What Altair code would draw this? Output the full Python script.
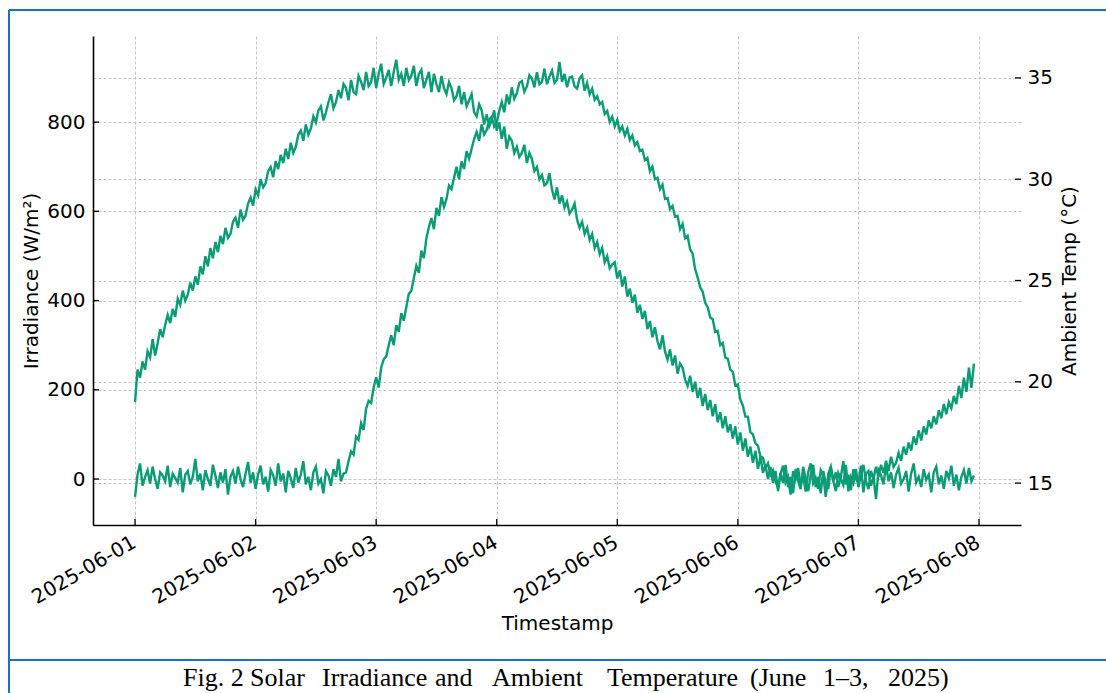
import altair as alt
import pandas as pd

# ---------------- data (half-hourly) ----------------
irradiance = [
    # 2025-06-01
    -40, 10, 35, -15, 5, 20, -10, 28, 0, -22, 15, 8, -5, 30, -18, 12, 2, -8, 25, -30, 10, 18, -12, 5,
    45, -5, 12, -25, 20, 0, -15, 32, 8, -20, 15, -8, 22, -35, 5, 18, -10, 28, 0, -18, 12, 38, -8, 15,
    # 2025-06-02 00:00 - 17:30
    -22, 10, 30, -12, 5, -28, 20, 8, -15, 35, -5, 12, -30, 18, 2, -20, 25, -8, 10, 40, -12, 5, -25, 15,
    28, -10, 0, -32, 18, 8, -15, 22, 5, 45, -5, 12,
    # rise
    15, 40, 62, 55, 95, 88, 125, 110, 158, 175, 170, 205, 228, 205, 250, 268, 275, 300, 322, 300, 345, 330, 372, 355,
    385, 415, 422, 450, 478, 462, 512, 495, 540, 565, 585, 560, 608, 590, 632, 610, 628, 658, 650, 675, 700, 672, 712, 695,
    735, 718, 740, 762, 778, 758, 795, 772, 782, 805, 812, 790, 798, 825, 845, 822, 862, 840, 878, 852, 865, 888, 892, 868,
    880, 905, 898, 878, 912, 885, 890, 920, 885, 902, 915, 888, 895, 935, 890, 908, 878, 900, 902, 880, 875, 898, 905, 870,
    888, 862, 875, 850, 858, 840, 845, 818, 825, 800, 812, 790, 805, 780, 790, 770, 785, 760, 770, 748,
    # fall
    755, 735, 738, 715, 720, 690, 700, 672, 675, 650, 660, 628, 630, 605, 612, 588, 590, 560, 572, 540, 545, 515, 505, 470,
    452, 430, 420, 395, 385, 362, 358, 330, 332, 300, 305, 272, 270, 245, 240, 210, 212, 178, 165, 140, 140, 105, 100, 80,
    75, 50, 48, 25, 35, 10, 20, -5,
    # night to 2025-06-08
    -20, 12, 30, -8, 5, -35, 18, 0, 25, -15, 8, -28, 15, 35, -10, 2, -22, 20, 8, -40, 12, 28, -5, 15,
    -18, 5, 40, -12, 10, -25, 22, 0, -8, 30, -30, 12, 18, -15, 5, -45, 20, 8, -12, 32, -5, 15, -20, 10,
    25, -10, 0, 18, -28, 12, 35, -8, 5, -18, 22, -2, 10, -30, 15, 28, -12, 8, -22, 18, 2, 30, -15, 10,
    -25, 5, 20, -10, 25, -5, 8,
]
temperature = [
    19.0, 20.6, 20.2, 21.0, 20.6, 21.5, 21.2, 22.1, 21.3, 21.9, 22.6, 22.2, 22.8, 23.3, 22.9, 23.6, 23.2, 24.1, 23.8, 24.5, 24.0, 24.3, 24.9, 24.5,
    25.2, 24.8, 25.7, 25.3, 26.2, 25.7, 26.6, 26.1, 26.9, 26.4, 27.2, 26.8, 27.6, 27.1, 27.3, 27.9, 28.1, 27.6, 28.5, 28.0, 28.2, 28.8, 29.1, 28.7,
    29.5, 29.2, 30.0, 29.6, 29.8, 30.4, 30.6, 30.1, 30.9, 30.5, 31.2, 30.8, 31.5, 31.0, 31.8, 31.3, 31.6, 32.2, 32.4, 31.9, 32.7, 32.2, 32.5, 33.1,
    32.8, 33.4, 33.6, 32.9, 33.3, 33.8, 34.2, 33.5, 33.8, 34.4, 34.0, 34.7, 34.5, 33.9, 34.9, 34.3, 34.2, 35.1, 34.8, 34.4, 35.3, 34.6, 34.8, 35.5,
    34.5, 35.2, 35.7, 34.7, 35.0, 35.4, 34.6, 35.3, 35.9, 34.9, 35.2, 34.6, 35.5, 34.9, 35.1, 35.6, 34.6, 35.2, 35.4, 34.5, 34.9, 35.3, 34.3, 35.2,
    34.7, 34.3, 35.1, 34.5, 34.2, 34.8, 34.5, 33.9, 34.1, 34.6, 33.7, 34.3, 33.6, 33.9, 34.2, 33.3, 33.1, 33.7, 33.4, 32.7, 33.2, 32.6, 32.9, 33.4,
    32.4, 32.8, 32.0, 32.6, 31.5, 32.1, 31.9, 31.3, 31.6, 31.1, 31.3, 31.7, 30.8, 31.3, 31.0, 30.4, 30.6, 30.0, 30.2, 29.7, 29.8, 30.3, 29.5, 29.0,
    29.6, 28.8, 29.2, 28.6, 28.9, 28.3, 28.5, 28.8, 28.0, 27.6, 27.9, 27.3, 27.6, 27.0, 27.3, 26.6, 26.9, 26.3, 26.6, 25.9, 26.2, 25.6, 25.8, 25.9,
    25.1, 25.5, 24.7, 25.2, 24.2, 24.6, 23.9, 24.3, 23.4, 23.8, 23.1, 23.5, 22.6, 23.0, 22.2, 22.7, 22.0, 21.6, 22.3, 21.5, 21.1, 21.6, 20.8, 21.3,
    20.4, 20.9, 20.7, 20.1, 19.8, 20.3, 19.5, 20.0, 19.2, 19.7, 18.8, 19.4, 18.6, 19.1, 18.3, 18.9, 18.0, 18.5, 17.7, 18.3, 17.5, 17.9, 17.2, 17.8,
    16.9, 17.5, 16.6, 17.2, 16.3, 16.8, 16.0, 16.6, 15.7, 16.3, 15.5, 15.9, 15.2, 15.8, 15.0, 15.6,
    14.6, 15.5, 15.0, 15.9, 14.8, 15.3, 14.5, 15.7, 15.1, 14.7, 15.8, 15.2, 14.6, 15.4, 15.9, 14.8, 15.3, 14.5, 15.6, 15.0,
    14.7, 15.8, 15.1, 14.6, 15.5, 15.2, 14.9, 15.9, 14.6, 15.3, 15.0, 15.7, 14.8, 15.4, 15.9, 15.1, 14.7, 15.6, 15.2, 15.8,
    15.3, 15.9, 15.5, 16.1, 15.6, 16.3, 15.8, 16.0, 16.5, 16.1, 16.8, 16.4, 17.0, 16.6, 17.3, 16.9, 17.6, 17.1, 17.8, 17.4,
    18.1, 17.7, 18.3, 17.9, 18.6, 18.2, 18.9, 18.4, 19.0, 18.7, 19.3, 18.9, 19.8, 19.2, 20.2, 19.5, 20.7, 19.7, 20.9, 20.0, 20.3,
]
day_ticks = ["2025-06-01", "2025-06-02", "2025-06-03", "2025-06-04",
             "2025-06-05", "2025-06-06", "2025-06-07", "2025-06-08"]
irr_ticks = [0, 200, 400, 600, 800]
temp_ticks = [15, 20, 25, 30, 35]
caption_words = ["Fig. 2", "Solar", "Irradiance", "and", "Ambient", "Temperature",
                 "(June", "1\u20133,", "2025)"]

# ---------------- layout / style ----------------
GREEN = "#0a9c75"
BLUE = "#1a6fc8"
W, H = 928, 489
PAD_L, PAD_T = 93, 36
FS = 20
caption_x = [183, 250, 322, 435, 492, 607, 750, 823, 888]

n = min(len(irradiance), len(temperature))
times = pd.date_range("2025-06-01", periods=n, freq="30min").strftime("%Y-%m-%dT%H:%M:%S")
df = pd.DataFrame({"Timestamp": list(times), "Irradiance": irradiance[:n], "Temp": temperature[:n]})

xdom = [alt.DateTime(year=2025, month=5, date=31, hours=15, minutes=38),
        alt.DateTime(year=2025, month=6, date=8, hours=8, minutes=22)]
day_vals = [alt.DateTime(year=2025, month=6, date=int(d[-2:])) for d in day_ticks]

x_enc = alt.X(
    "Timestamp:T",
    scale=alt.Scale(domain=xdom),
    axis=alt.Axis(values=day_vals, format="%Y-%m-%d", labelAngle=330, labelAlign="right",
                  labelBaseline="top", labelPadding=7, labelOffset=-6, title="Timestamp",
                  titlePadding=6, grid=True, ticks=False, domain=True),
)
irr_y = alt.Y("Irradiance:Q", scale=alt.Scale(domain=[-103, 993], nice=False, zero=False),
              axis=alt.Axis(values=irr_ticks, title="Irradiance (W/m²)", orient="left",
                            ticks=False, labelPadding=8, titlePadding=5, grid=True, domain=True))
temp_y = alt.Y("Temp:Q", scale=alt.Scale(domain=[12.93, 37.07], nice=False, zero=False),
               axis=alt.Axis(values=temp_ticks, title="Ambient Temp (°C)", orient="right",
                             ticks=False, labelPadding=6, titlePadding=7, titleAngle=270,
                             titleBaseline="top", grid=True, domain=False))

irr_line = alt.Chart(df).mark_line(color=GREEN, strokeWidth=2.4).encode(x=x_enc, y=irr_y)
irr_tk = alt.Chart(pd.DataFrame({"Irradiance": irr_ticks})).mark_rule(
    color="black", strokeWidth=1.3).encode(y=irr_y, x=alt.value(0), x2=alt.value(6))
day_tk = alt.Chart(pd.DataFrame({"Timestamp": day_ticks})).mark_rule(
    color="black", strokeWidth=1.3).encode(x=x_enc, y=alt.value(H), y2=alt.value(H - 6))

one = alt.Data(values=[{}])
frame = [
    alt.Chart(one).mark_rule(color=BLUE, strokeWidth=2).encode(
        x=alt.value(-84), x2=alt.value(1020), y=alt.value(-26)),
    alt.Chart(one).mark_rule(color=BLUE, strokeWidth=2).encode(
        x=alt.value(-84), y=alt.value(-26), y2=alt.value(660)),
    alt.Chart(one).mark_rule(color=BLUE, strokeWidth=2).encode(
        x=alt.value(-84), x2=alt.value(1020), y=alt.value(624)),
]
caption = [
    alt.Chart(one).mark_text(font="Liberation Serif", fontSize=26, align="left",
                             baseline="alphabetic", color="black").encode(
        x=alt.value(px - PAD_L), y=alt.value(686 - PAD_T), text=alt.value(w))
    for w, px in zip(caption_words, caption_x)
]

irr_group = alt.layer(irr_line, irr_tk, day_tk, *frame, *caption)

temp_line = alt.Chart(df).mark_line(color=GREEN, strokeWidth=2.4).encode(x=x_enc, y=temp_y)
temp_tk = alt.Chart(pd.DataFrame({"Temp": temp_ticks})).mark_rule(
    color="black", strokeWidth=1.3).encode(y=temp_y, x=alt.value(W - 6), x2=alt.value(W))
temp_group = alt.layer(temp_line, temp_tk)

chart = alt.layer(irr_group, temp_group).resolve_scale(y="independent").properties(
    width=W, height=H,
    padding={"left": PAD_L, "top": PAD_T, "right": 1106 - PAD_L - W, "bottom": 693 - PAD_T - H},
    autosize=alt.AutoSizeParams(type="none"),
).configure_axis(
    labelFont="DejaVu Sans", labelFontSize=FS, labelColor="black",
    titleFont="DejaVu Sans", titleFontSize=FS, titleFontWeight="normal", titleColor="black",
    gridColor="#bdbdbd", gridDash=[3, 2], gridWidth=0.9,
    domainColor="black", domainWidth=1.6,
).configure_view(stroke=None)

chart.save("out.html", embed_options={"renderer": "svg", "actions": False})
